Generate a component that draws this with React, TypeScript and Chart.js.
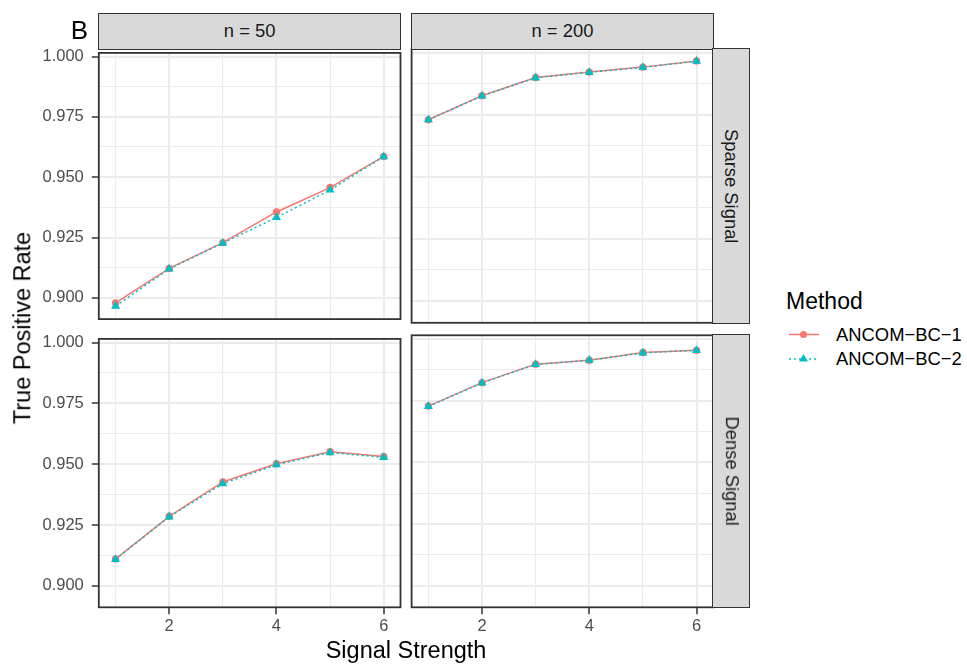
import React, { useEffect, useRef } from "react";
import { Chart, registerables } from "chart.js";

Chart.register(...registerables);

// ---------- data ----------
const signalStrength = [1, 2, 3, 4, 5, 6];
const xTickValues = [1, 2, 3, 4, 5, 6];
const xTickLabels = ["", "2", "", "4", "", "6"];
const yTickValues = [0.9, 0.9125, 0.925, 0.9375, 0.95, 0.9625, 0.975, 0.9875, 1.0];
const yTickLabels = ["0.900", "", "0.925", "", "0.950", "", "0.975", "", "1.000"];
const sampleSizeLabels = ["n = 50", "n = 200"];
const signalTypeLabels = ["Sparse Signal", "Dense Signal"];
const methodLabels = ["ANCOM\u2212BC\u22121", "ANCOM\u2212BC\u22122"];

const sparseN50BC1 = [0.8979, 0.9122, 0.9229, 0.9356, 0.9457, 0.9586];
const sparseN50BC2 = [0.8966, 0.912, 0.9227, 0.9333, 0.9447, 0.9585];
const sparseN200BC1 = [0.973, 0.9827, 0.99, 0.9922, 0.9942, 0.9967];
const sparseN200BC2 = [0.973, 0.9826, 0.9899, 0.9921, 0.9941, 0.9966];
const denseN50BC1 = [0.9111, 0.9286, 0.9427, 0.9502, 0.9551, 0.9532];
const denseN50BC2 = [0.9109, 0.9284, 0.942, 0.9498, 0.9548, 0.9528];
const denseN200BC1 = [0.9728, 0.9823, 0.9898, 0.9914, 0.9945, 0.9954];
const denseN200BC2 = [0.9727, 0.9822, 0.9897, 0.9914, 0.9944, 0.9954];

const methodColors = ["#F8766D", "#00BFC4"];

// ---------- layout ----------
const FONT = '"Liberation Sans", Arial, Helvetica, sans-serif';
const COLS = [
  { L: 98.8, R: 400.5 },
  { L: 411.6, R: 713.3 },
];
const ROWS = [
  { T: 49, B: 322.8 },
  { T: 335.3, B: 607.3 },
];
const STRIP_TOP = 13.5;
const STRIP_RIGHT = 749.5;
const X_MIN = 0.687;
const X_MAX = 6.313;
const Y_MIN = 0.8912;
const Y_MAX = 1.0015;

type PanelProps = {
  L: number;
  T: number;
  R: number;
  B: number;
  showX: boolean;
  showY: boolean;
  bc1: number[];
  bc2: number[];
};

const borderPlugin = {
  id: "panelBorder",
  afterDatasetsDraw(chart: any) {
    const { left, top, right, bottom } = chart.chartArea;
    const ctx = chart.ctx;
    ctx.save();
    ctx.strokeStyle = "#333333";
    ctx.lineWidth = 1.8;
    ctx.strokeRect(left, top, right - left, bottom - top);
    ctx.restore();
  },
};

function Panel({ L, T, R, B, showX, showY, bc1, bc2 }: PanelProps) {
  const ref = useRef<HTMLCanvasElement>(null);
  const canvasLeft = showY ? 0 : Math.floor(L - 14);
  const yAxisW = showY ? L - canvasLeft : 0;
  const padLeft = showY ? 0 : L - canvasLeft;
  const canvasTop = Math.floor(T - 14);
  const padTop = T - canvasTop;
  const canvasRight = Math.ceil(R + 14);
  const padRight = canvasRight - R;
  const xAxisH = showX ? 45 : 0;
  const canvasBottom = Math.ceil(B + xAxisH + (showX ? 4 : 14));
  const padBottom = canvasBottom - B - xAxisH;
  const w = canvasRight - canvasLeft;
  const h = canvasBottom - canvasTop;

  useEffect(() => {
    if (!ref.current) return;
    const pts = (ys: number[]) => signalStrength.map((x, i) => ({ x, y: ys[i] }));
    const chart = new Chart(ref.current, {
      type: "line",
      data: {
        datasets: [
          {
            label: methodLabels[0],
            data: pts(bc1),
            borderColor: methodColors[0],
            borderWidth: 1.5,
            pointRadius: 0,
            fill: false,
            order: 4,
          },
          {
            label: methodLabels[1],
            data: pts(bc2),
            borderColor: methodColors[1],
            borderWidth: 1.5,
            borderDash: [2, 3],
            pointRadius: 0,
            fill: false,
            order: 3,
          },
          {
            label: methodLabels[0] + " points",
            data: pts(bc1),
            showLine: false,
            pointStyle: "circle",
            pointRadius: 3.7,
            pointBackgroundColor: methodColors[0],
            pointBorderWidth: 0,
            order: 2,
          },
          {
            label: methodLabels[1] + " points",
            data: pts(bc2),
            showLine: false,
            pointStyle: "triangle",
            pointRadius: 5.2,
            pointBackgroundColor: methodColors[1],
            pointBorderWidth: 0,
            order: 1,
          },
        ],
      },
      options: {
        animation: false,
        responsive: false,
        devicePixelRatio: 1,
        events: [],
        layout: {
          padding: { left: padLeft, top: padTop, right: padRight, bottom: padBottom },
        },
        plugins: {
          legend: { display: false },
          tooltip: { enabled: false },
          title: { display: false },
        },
        scales: {
          x: {
            type: "linear",
            position: "bottom",
            min: X_MIN,
            max: X_MAX,
            bounds: "data",
            afterBuildTicks: (scale: any) => {
              scale.ticks = xTickValues.map((v) => ({ value: v }));
            },
            afterFit: (scale: any) => {
              scale.height = xAxisH;
            },
            border: { display: false },
            grid: {
              display: true,
              color: "#ebebeb",
              lineWidth: (ctx: any) => (ctx.index % 2 === 1 ? 2 : 1.1),
              drawTicks: showX,
              tickLength: 7,
              tickWidth: 1.5,
              tickColor: (ctx: any) => (ctx.index % 2 === 1 ? "#333333" : "rgba(0,0,0,0)"),
            },
            ticks: {
              display: showX,
              autoSkip: false,
              maxRotation: 0,
              minRotation: 0,
              padding: 2,
              color: "#4d4d4d",
              font: { family: FONT, size: 16.5 },
              callback: (_v: any, i: number) => xTickLabels[i],
            },
          },
          y: {
            type: "linear",
            position: "left",
            min: Y_MIN,
            max: Y_MAX,
            bounds: "data",
            afterBuildTicks: (scale: any) => {
              scale.ticks = yTickValues.map((v) => ({ value: v }));
            },
            afterFit: (scale: any) => {
              scale.width = yAxisW;
            },
            border: { display: false },
            grid: {
              display: true,
              color: "#ebebeb",
              lineWidth: (ctx: any) => (ctx.index % 2 === 0 ? 2 : 1.1),
              drawTicks: showY,
              tickLength: 7,
              tickWidth: 1.5,
              tickColor: (ctx: any) => (ctx.index % 2 === 0 ? "#333333" : "rgba(0,0,0,0)"),
            },
            ticks: {
              display: showY,
              autoSkip: false,
              padding: 8,
              color: "#4d4d4d",
              font: { family: FONT, size: 16.5 },
              callback: (_v: any, i: number) => yTickLabels[i],
            },
          },
        },
      },
      plugins: [borderPlugin],
    } as any);
    return () => chart.destroy();
  }, []);

  return (
    <canvas
      ref={ref}
      width={w}
      height={h}
      style={{ position: "absolute", left: canvasLeft, top: canvasTop, width: w, height: h }}
    />
  );
}

function TopStrip({ L, R, label }: { L: number; R: number; label: string }) {
  return (
    <div
      style={{
        position: "absolute",
        left: L - 0.9,
        top: STRIP_TOP - 0.9,
        width: R - L + 1.8,
        height: ROWS[0].T - STRIP_TOP + 1.8,
        boxSizing: "border-box",
        background: "#d9d9d9",
        border: "1.8px solid #333333",
        display: "flex",
        alignItems: "center",
        justifyContent: "center",
        fontFamily: FONT,
        fontSize: 18.4,
        color: "#1a1a1a",
        lineHeight: 1,
      }}
    >
      {label}
    </div>
  );
}

function RightStrip({ T, B, label }: { T: number; B: number; label: string }) {
  const L = COLS[1].R;
  return (
    <div
      style={{
        position: "absolute",
        left: L - 0.9,
        top: T - 0.9,
        width: STRIP_RIGHT - L + 1.8,
        height: B - T + 1.8,
        boxSizing: "border-box",
        background: "#d9d9d9",
        border: "1.8px solid #333333",
        display: "flex",
        alignItems: "center",
        justifyContent: "center",
        fontFamily: FONT,
        fontSize: 18.4,
        color: "#1a1a1a",
        lineHeight: 1,
      }}
    >
      <span style={{ display: "inline-block", transform: "rotate(90deg)", whiteSpace: "nowrap" }}>{label}</span>
    </div>
  );
}

const panelData = [
  [
    [sparseN50BC1, sparseN50BC2],
    [sparseN200BC1, sparseN200BC2],
  ],
  [
    [denseN50BC1, denseN50BC2],
    [denseN200BC1, denseN200BC2],
  ],
];

export default function App() {
  const centerText = (left: number, top: number, size: number, text: string, extra: any = {}) => (
    <div
      style={{
        position: "absolute",
        left,
        top,
        transform: "translate(-50%, -50%)" + (extra.rotate ? ` rotate(${extra.rotate}deg)` : ""),
        fontFamily: FONT,
        fontSize: size,
        lineHeight: 1,
        whiteSpace: "nowrap",
        color: extra.color || "#000000",
      }}
    >
      {text}
    </div>
  );

  return (
    <div
      style={{
        position: "absolute",
        left: 0,
        top: 0,
        width: 967,
        height: 666,
        background: "#ffffff",
        overflow: "hidden",
      }}
    >
      {ROWS.map((row, ri) =>
        COLS.map((col, ci) => (
          <Panel
            key={`${ri}-${ci}`}
            L={col.L}
            R={col.R}
            T={row.T}
            B={row.B}
            showX={ri === 1}
            showY={ci === 0}
            bc1={panelData[ri][ci][0]}
            bc2={panelData[ri][ci][1]}
          />
        ))
      )}
      {COLS.map((col, ci) => (
        <TopStrip key={`ts${ci}`} L={col.L} R={col.R} label={sampleSizeLabels[ci]} />
      ))}
      {ROWS.map((row, ri) => (
        <RightStrip key={`rs${ri}`} T={row.T} B={row.B} label={signalTypeLabels[ri]} />
      ))}

      {centerText(79.5, 30, 26, "B")}
      {centerText(23, (ROWS[0].T + ROWS[1].B) / 2, 23.5, "True Positive Rate", { rotate: -90 })}
      {centerText((COLS[0].L + COLS[1].R) / 2, 651, 23.5, "Signal Strength")}

      {/* legend */}
      <div
        style={{
          position: "absolute",
          left: 786,
          top: 301,
          transform: "translateY(-50%)",
          fontFamily: FONT,
          fontSize: 23,
          lineHeight: 1,
          color: "#000",
        }}
      >
        Method
      </div>
      <svg
        style={{ position: "absolute", left: 786, top: 323 }}
        width={36}
        height={48}
        viewBox="0 0 36 48"
      >
        <line x1={3} y1={11.5} x2={33} y2={11.5} stroke={methodColors[0]} strokeWidth={1.5} />
        <circle cx={17.5} cy={11.5} r={3.5} fill={methodColors[0]} />
        <line
          x1={3}
          y1={36}
          x2={33}
          y2={36}
          stroke={methodColors[1]}
          strokeWidth={1.5}
          strokeDasharray="2 3"
        />
        <polygon points="17.5,31 22,38.6 13,38.6" fill={methodColors[1]} />
      </svg>
      {methodLabels.map((m, i) => (
        <div
          key={m}
          style={{
            position: "absolute",
            left: 836,
            top: 335 + i * 24,
            transform: "translateY(-50%)",
            fontFamily: FONT,
            fontSize: 18.4,
            lineHeight: 1,
            whiteSpace: "nowrap",
            color: "#000",
          }}
        >
          {m}
        </div>
      ))}
    </div>
  );
}
